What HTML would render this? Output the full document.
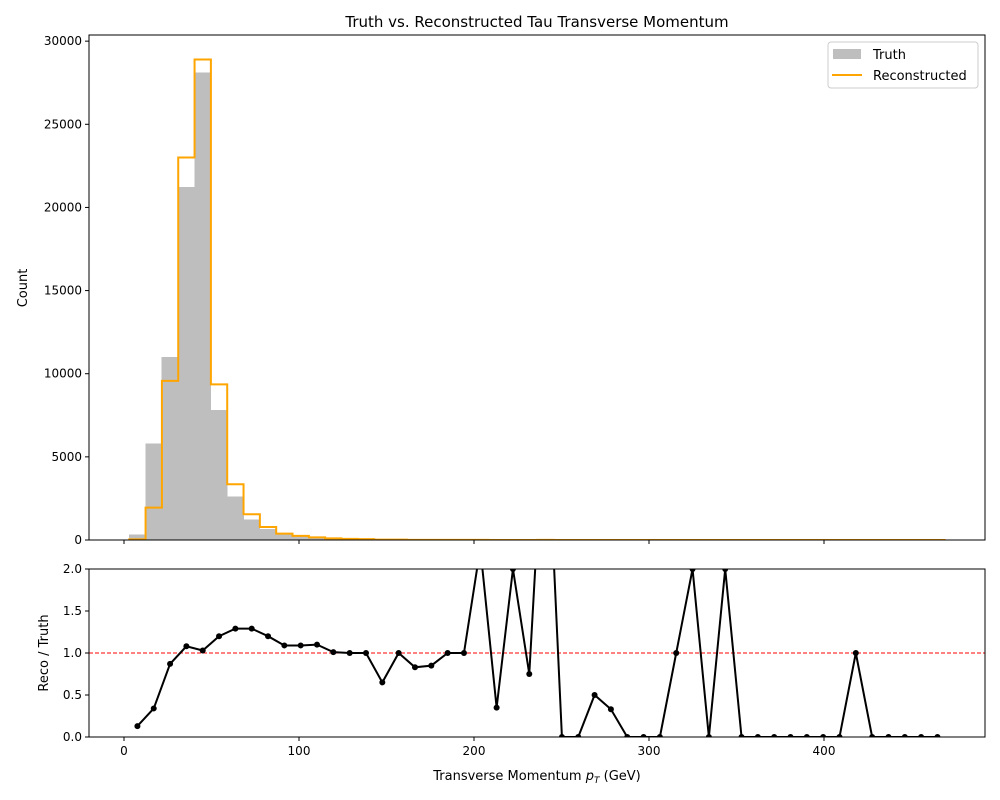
<!DOCTYPE html>
<html><head><meta charset="utf-8"><style>
html,body{margin:0;padding:0;background:#fff;}
svg{display:block;font-family:"DejaVu Sans","Liberation Sans",sans-serif;}
</style></head><body>
<svg id="chart" width="1000" height="800" viewBox="0 0 1000 800" xmlns="http://www.w3.org/2000/svg">
<rect width="1000" height="800" fill="#fff"/>
<defs>
<clipPath id="topclip"><rect x="89" y="35" width="896" height="505"/></clipPath>
<clipPath id="botclip"><rect x="89" y="569" width="896" height="168"/></clipPath>
</defs>
<text x="537" y="27" font-size="15" text-anchor="middle">Truth vs. Reconstructed Tau Transverse Momentum</text>
<g id="topg" clip-path="url(#topclip)"></g>
<g id="botg" clip-path="url(#botclip)"></g>
<g id="axes"></g>
<g>
<rect x="828" y="42" width="150" height="46" fill="#fff" stroke="#ccc" rx="3"/>
<rect x="833" y="49" width="28" height="10" fill="#bebebe"/>
<text x="873" y="59" font-size="13">Truth</text>
<line x1="832" y1="75" x2="862" y2="75" stroke="orange" stroke-width="2"/>
<text x="873" y="80" font-size="13">Reconstructed</text>
</g>
<text transform="translate(27,288) rotate(-90)" font-size="13" text-anchor="middle">Count</text>
<text transform="translate(48,653) rotate(-90)" font-size="13" text-anchor="middle">Reco / Truth</text>
<text x="537" y="780" font-size="13" text-anchor="middle">Transverse Momentum <tspan font-style="italic">p</tspan><tspan font-size="9" dy="3" font-style="italic">T</tspan><tspan dy="-3"> (GeV)</tspan></text>
</svg>
<script>
const binLow = 3.0, binWidth = 9.33;
const truthCounts = [300,5800,11000,21200,28100,7800,2600,1200,650,350,230,145,100,70,50,30,20,12,13,8,6,4,3,1,4,1,2,1,2,3,1,1,1,1,1,1,1,1,1,1,1,1,1,1,1,1,1,1,1,1];
const recoCounts = [40,1950,9570,23000,28900,9360,3350,1550,780,380,250,160,100,70,50,20,20,10,11,8,6,9,1,2,3,4,0,0,1,1,0,0,0,1,2,0,2,0,0,0,0,0,0,0,1,0,0,0,0,0];
const ratioValues = [0.13,0.34,0.87,1.08,1.03,1.2,1.29,1.29,1.2,1.09,1.09,1.1,1.01,1.0,1.0,0.65,1.0,0.83,0.85,1.0,1.0,2.25,0.35,2.0,0.75,4.2,0,0,0.5,0.33,0,0,0,1.0,2.0,0,2.0,0,0,0,0,0,0,0,1.0,0,0,0,0,0];
const xTicks = [0,100,200,300,400];
const countTicks = [0,5000,10000,15000,20000,25000,30000];
const ratioTicks = [0.0,0.5,1.0,1.5,2.0];

const NS = "http://www.w3.org/2000/svg";
const X = v => 124 + v * 1.75;
const YC = v => 540 - v * (505 / 30370);
const YR = v => 737 - v * (168 / 2);
function mk(tag, attrs, parent){const e=document.createElementNS(NS,tag);for(const k in attrs)e.setAttribute(k,attrs[k]);parent.appendChild(e);return e;}
const gTop = document.getElementById('topg'), gBot = document.getElementById('botg'), gAxes = document.getElementById('axes');

truthCounts.forEach((c,i)=>{
  const x0 = X(binLow + i*binWidth), x1 = X(binLow + (i+1)*binWidth);
  const r = mk('rect',{x:x0,y:YC(c),width:x1-x0,height:540-YC(c),fill:'#bebebe',stroke:'#bebebe','stroke-width':0.6,'shape-rendering':'crispEdges'},gTop);
  
  
});
let d = '';
recoCounts.forEach((c,i)=>{
  const x0 = X(binLow + i*binWidth), x1 = X(binLow + (i+1)*binWidth);
  d += (i===0 ? 'M'+x0+','+YC(0)+' L'+x0+','+YC(c) : ' L'+x0+','+YC(c)) + ' L'+x1+','+YC(c);
});
d += ' L'+X(binLow+recoCounts.length*binWidth)+','+YC(0);
const step = mk('path',{d:d,fill:'none',stroke:'orange','stroke-width':2},gTop);



const ref = mk('line',{x1:89,x2:985,y1:YR(1),y2:YR(1),stroke:'red','stroke-width':1,'stroke-dasharray':'4,2'},gBot);


const pts = ratioValues.map((v,i)=>[X(binLow+(i+0.5)*binWidth), YR(v)]);
const rl = mk('polyline',{points:pts.map(p=>p.join(',')).join(' '),fill:'none',stroke:'#000','stroke-width':2},gBot);


pts.forEach(p=>{
  const c = mk('circle',{cx:p[0],cy:p[1],r:3,fill:'#000'},gBot);
  
  
});

[[35,540],[569,737]].forEach(([t,b])=>{
  const f = mk('rect',{x:89,y:t,width:896,height:b-t,fill:'none',stroke:'#000','stroke-width':1},gAxes);
  
  
});
xTicks.forEach(v=>{
  mk('line',{x1:X(v),x2:X(v),y1:540,y2:544,stroke:'#000'},gAxes);
  mk('line',{x1:X(v),x2:X(v),y1:737,y2:741,stroke:'#000'},gAxes);
  const t = mk('text',{x:X(v),y:755,'font-size':12,'text-anchor':'middle'},gAxes);
  t.textContent = v;
  
  
});
countTicks.forEach(v=>{
  mk('line',{x1:85,x2:89,y1:YC(v),y2:YC(v),stroke:'#000'},gAxes);
  const t = mk('text',{x:82,y:YC(v)+4,'font-size':12,'text-anchor':'end'},gAxes);
  t.textContent = v;
  
  
});
ratioTicks.forEach(v=>{
  mk('line',{x1:85,x2:89,y1:YR(v),y2:YR(v),stroke:'#000'},gAxes);
  const t = mk('text',{x:82,y:YR(v)+4,'font-size':12,'text-anchor':'end'},gAxes);
  t.textContent = v.toFixed(1);
  
  
});
</script>
</body></html>
